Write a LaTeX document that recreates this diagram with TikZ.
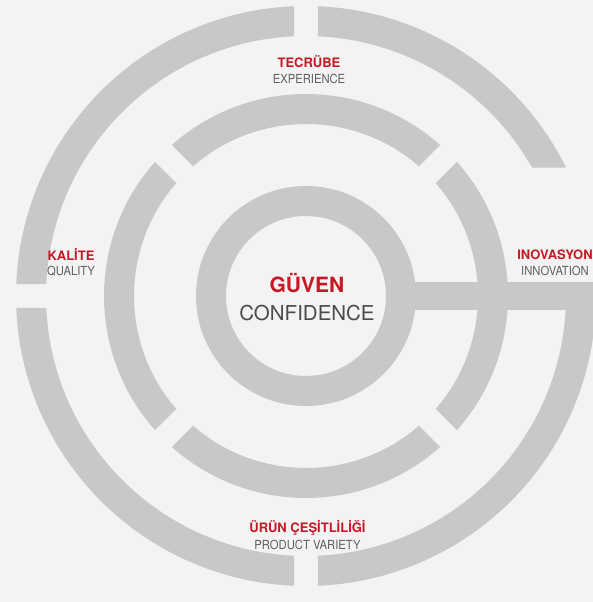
\documentclass[tikz,border=0pt]{standalone}
\usepackage{fontspec}
\setmainfont{TeX Gyre Heros}
\newfontfamily\thinfont{TeX Gyre Heros}[FakeStretch=0.9]
\definecolor{ringgray}{RGB}{200,200,200}
\definecolor{paper}{RGB}{243,243,243}
\definecolor{brandred}{RGB}{200,24,38}
\definecolor{labelgray}{RGB}{95,95,95}
\definecolor{coregray}{RGB}{75,75,75}
\usepackage{tikz}

% one piece of the outer ring: outer start/end angle, inner start/end angle
\newcommand{\outerpart}[4]{%
  \fill[ringgray] ({#1}:290) arc[start angle={#1}, end angle={#2}, radius=290]
    -- ({#4}:260) arc[start angle={#4}, end angle={#3}, radius=260] -- cycle;}

\begin{document}
\begin{tikzpicture}[x=1pt, y=1pt,
  redlabel/.style={text=brandred, font=\fontsize{13}{15}\selectfont\bfseries,
    inner sep=0pt, anchor=base},
  graylabel/.style={text=labelgray, font=\thinfont\fontsize{12.5}{15}\selectfont,
    inner sep=0pt, anchor=base},
]
  \useasboundingbox (-306,-306) rectangle (287,296);
  \fill[paper] (-306,-306) rectangle (287,296);
  \clip (-306,-306) rectangle (287,296);

  % inner ring with its bar
  \draw[ringgray, line width=30pt] (0,0) circle[radius=95];
  \fill[ringgray] (100,-14) rectangle (300,14);

  % middle ring, four pieces
  \foreach \a in {0,90,180,270}
    \fill[ringgray] ({\a-45+asin(12/202)}:202)
      arc[start angle={\a-45+asin(12/202)}, end angle={\a+45-asin(12/202)}, radius=202]
      -- ({\a+45-asin(12/172)}:172)
      arc[start angle={\a+45-asin(12/172)}, end angle={\a-45+asin(12/172)}, radius=172] -- cycle;

  % outer ring
  \outerpart{asin(128.5/290)}{90-asin(12/290)}{asin(128.5/260)}{90-asin(12/260)}
  \outerpart{90+asin(12/290)}{180-asin(12/290)}{90+asin(12/260)}{180-asin(12/260)}
  \outerpart{180+asin(12/290)}{270-asin(12/290)}{180+asin(12/260)}{270-asin(12/260)}
  \outerpart{270+asin(12/290)}{360+asin(14/290)}{270+asin(12/260)}{360+asin(14/260)}

  % labels
  \node[text=brandred, font=\fontsize{21}{24}\selectfont\bfseries, inner sep=0pt, anchor=base]
    (guven) at (1,3) {GÜVEN};
  \node[text=coregray, font=\fontsize{20.5}{24}\selectfont, inner sep=0pt, anchor=base]
    (confidence) at ([yshift=-27.5pt]guven.base) {CONFIDENCE};

  \node[redlabel] (tecrube) at (3,228.5) {TECRÜBE};
  \node[graylabel] (experience) at ([yshift=-16pt]tecrube.base) {EXPERIENCE};

  \node[redlabel] (kalite) at (-235,35.5) {KALİTE};
  \node[graylabel] (quality) at ([yshift=-15pt]kalite.base) {QUALITY};

  \node[redlabel] (inovasyon) at (249,36.5) {INOVASYON};
  \node[graylabel] (innovation) at ([yshift=-16pt]inovasyon.base) {INNOVATION};

  \node[redlabel] (urun) at (1.5,-236.5) {ÜRÜN ÇEŞİTLİLİĞİ};
  \node[graylabel] (variety) at ([yshift=-17pt]urun.base) {PRODUCT VARIETY};
\end{tikzpicture}
\end{document}
